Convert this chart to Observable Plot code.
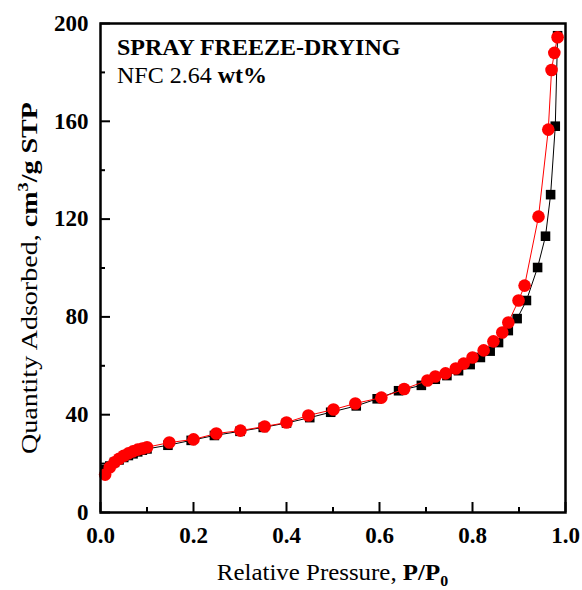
<!DOCTYPE html>
<html>
<head>
<meta charset="utf-8">
<script src="https://cdn.jsdelivr.net/npm/d3@7"></script>
<script src="https://cdn.jsdelivr.net/npm/@observablehq/plot@0.6"></script>
<style>
  html, body { margin: 0; padding: 0; background: #fff; }
  svg { display: block; }
</style>
</head>
<body>
<div id="chart"></div>
<script>
// Black squares series
const pressureBlack = [0.01, 0.02, 0.03, 0.04, 0.05, 0.06, 0.07, 0.08, 0.09, 0.1, 0.145, 0.195, 0.245, 0.3, 0.35, 0.4, 0.45, 0.495, 0.55, 0.595, 0.641, 0.69, 0.72, 0.745, 0.77, 0.795, 0.817, 0.838, 0.856, 0.877, 0.896, 0.916, 0.94, 0.957, 0.968, 0.978, 0.983];
const quantityBlack = [17.5, 19, 20.5, 21.5, 22.5, 23.3, 24, 24.8, 25.5, 26, 27.5, 29.5, 31.5, 33.2, 34.8, 36.6, 38.8, 41, 43.6, 46.5, 49.8, 52, 54.5, 56, 58, 60.5, 63.4, 66, 69.5, 74.4, 79.3, 86.7, 100.2, 113, 130, 158, 195];
// Red circles series
const pressureRed = [0.01, 0.02, 0.03, 0.04, 0.05, 0.06, 0.07, 0.08, 0.09, 0.1, 0.148, 0.2, 0.249, 0.301, 0.353, 0.4, 0.447, 0.501, 0.548, 0.604, 0.653, 0.703, 0.72, 0.742, 0.764, 0.781, 0.8, 0.824, 0.845, 0.864, 0.877, 0.899, 0.912, 0.942, 0.963, 0.97, 0.976, 0.983];
const quantityRed = [15.5, 18.5, 20.5, 22, 23.2, 24.2, 25, 25.7, 26.2, 26.7, 28.6, 29.9, 32.3, 33.5, 35.2, 36.8, 39.7, 42.1, 44.6, 47, 50.5, 54, 55.6, 56.9, 58.9, 60.9, 63.4, 66.3, 70, 73.6, 77.7, 86.7, 92.8, 121, 156.6, 181, 188, 194.4];

const xMajor = [0, 0.2, 0.4, 0.6, 0.8, 1.0];
const xMajorLabels = ["0.0", "0.2", "0.4", "0.6", "0.8", "1.0"];
const xMinor = [0.1, 0.3, 0.5, 0.7, 0.9];
const yMajor = [0, 40, 80, 120, 160, 200];
const yMinor = [20, 60, 100, 140, 180];

const title1 = "SPRAY FREEZE-DRYING";
const title2a = "NFC 2.64 ";
const title2b = "wt%";

const W = 582, H = 590;
const mL = 100, mR = 17, mT = 23, mB = 78;
const innerW = W - mL - mR, innerH = H - mT - mB;

const black = pressureBlack.map((p, i) => ({p, q: quantityBlack[i]}));
const red = pressureRed.map((p, i) => ({p, q: quantityRed[i]}));

const chart = Plot.plot({
  width: W, height: H,
  marginLeft: mL, marginRight: mR, marginTop: mT, marginBottom: mB,
  style: {fontFamily: "'Liberation Serif', 'Times New Roman', serif", fontSize: "22px", color: "#000", background: "#fff"},
  x: {domain: [0, 1], label: null},
  y: {domain: [0, 200], label: null},
  marks: [
    Plot.axisX(xMajor, {tickSize: 0, tickPadding: 14, tickFormat: (d, i) => xMajorLabels[i], fontWeight: "bold", fontSize: 23, label: null}),
    Plot.axisY(yMajor, {tickSize: 0, tickPadding: 12, fontWeight: "bold", fontSize: 23, label: null}),
    Plot.ruleX(xMajor, {x: d => d, y1: 200, y2: 0, insetTop: innerH - 10, stroke: "#000", strokeWidth: 2}),
    Plot.ruleX(xMinor, {x: d => d, y1: 200, y2: 0, insetTop: innerH - 5, stroke: "#000", strokeWidth: 2}),
    Plot.ruleY(yMajor, {y: d => d, x1: 0, x2: 1, insetRight: innerW - 10, stroke: "#000", strokeWidth: 2}),
    Plot.ruleY(yMinor, {y: d => d, x1: 0, x2: 1, insetRight: innerW - 5, stroke: "#000", strokeWidth: 2}),
    Plot.line(black, {x: "p", y: "q", stroke: "#000", strokeWidth: 1}),
    Plot.dot(black, {x: "p", y: "q", symbol: "square", r: 5.4, fill: "#000", stroke: "none"}),
    Plot.line(red, {x: "p", y: "q", stroke: "#ff0000", strokeWidth: 1}),
    Plot.dot(red, {x: "p", y: "q", symbol: "circle", r: 6.3, fill: "#ff0000", stroke: "none"}),
    Plot.frame({stroke: "#000", strokeWidth: 2.5})
  ]
});

document.getElementById("chart").appendChild(chart);

const svg = d3.select(chart);
const font = "'Liberation Serif', 'Times New Roman', serif";

// In-plot annotation
svg.append("text")
  .attr("x", 117).attr("y", 55)
  .attr("text-anchor", "start")
  .attr("font-family", font).attr("font-size", 24).attr("font-weight", "bold")
  .attr("fill", "#000")
  .text(title1);
const t2 = svg.append("text")
  .attr("x", 117).attr("y", 83)
  .attr("text-anchor", "start")
  .attr("font-family", font).attr("font-size", 24)
  .attr("fill", "#000");
t2.append("tspan").attr("xml:space", "preserve").text(title2a);
t2.append("tspan").attr("font-weight", "bold").text(title2b);

// X axis title
const xt = svg.append("text")
  .attr("transform", `translate(${mL + innerW / 2},580) scale(1.06,1)`)
  .attr("text-anchor", "middle")
  .attr("font-family", font).attr("font-size", 23.5).attr("fill", "#000");
xt.append("tspan").text("Relative Pressure, ");
xt.append("tspan").attr("font-weight", "bold").text("P/P");
xt.append("tspan").attr("font-weight", "bold").attr("font-size", 15).attr("dy", 6).text("0");

// Y axis title
const yt = svg.append("text")
  .attr("transform", `translate(37,278) rotate(-90) scale(1.22,1)`)
  .attr("text-anchor", "middle")
  .attr("font-family", font).attr("font-size", 23).attr("fill", "#000");
yt.append("tspan").text("Quantity Adsorbed, ");
yt.append("tspan").attr("font-weight", "bold").text("cm");
yt.append("tspan").attr("font-weight", "bold").attr("font-size", 15).attr("dy", -9).text("3");
yt.append("tspan").attr("font-weight", "bold").attr("dy", 9).text("/g STP");
</script>
</body>
</html>
